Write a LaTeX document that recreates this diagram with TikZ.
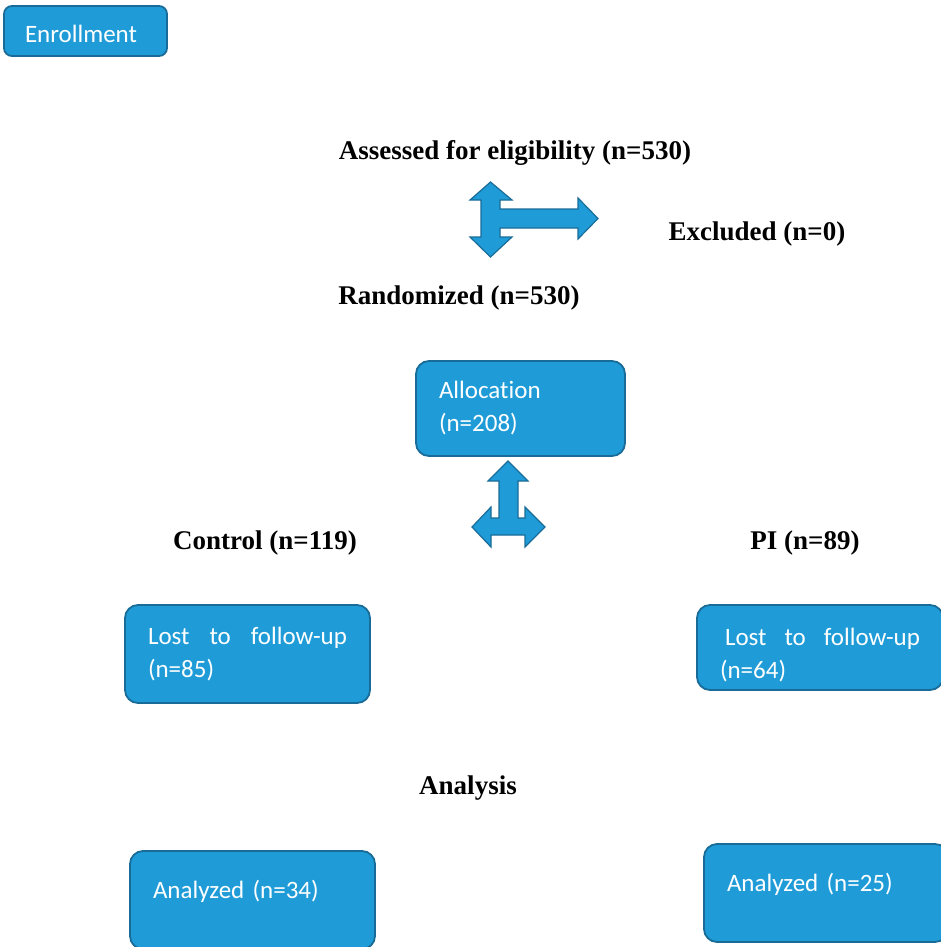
\documentclass[tikz,border=0pt]{standalone}
\usepackage{fontspec}
\setmainfont{Carlito}[Ligatures=NoCommon]
\newfontfamily\headfont{Liberation Serif}
\usepackage{tikz}
\usetikzlibrary{positioning}
\definecolor{boxblue}{HTML}{1F9CD8}
\definecolor{edgeblue}{HTML}{1A6C98}

\begin{document}
\begin{tikzpicture}[
  x=1pt, y=-1pt,
  box/.style={rectangle, draw=edgeblue, fill=boxblue, line width=1.8pt,
              rounded corners=13pt, text=white, inner xsep=23pt, inner ysep=0pt,
              font=\fontsize{25}{33}\selectfont, align=left},
  tag/.style={rectangle, draw=edgeblue, fill=boxblue, line width=1.8pt,
              rounded corners=8pt, text=white, inner xsep=21pt, inner ysep=0pt,
              font=\fontsize{25}{30}\selectfont, align=left},
  head/.style={font=\headfont\bfseries\fontsize{27}{32}\selectfont, inner sep=0pt},
  blockarr/.style={draw=edgeblue, fill=boxblue, line width=1.2pt, line join=miter},
  toptext/.style={text depth=21pt},
]
\useasboundingbox (0,0) rectangle (940,947);

%% ENROLLMENT
\node[tag, text width=121pt, minimum height=50pt, text height=23pt, text depth=0pt]
  (enrol) at (85.5,31) {Enrollment};

%% --- Screening ---
\node[head] (assess) at (515,153) {Assessed for eligibility (n=530)};
\node[head] (excl)   at (757,234) {Excluded (n=0)};
\node[head] (rand)   at (459,298) {Randomized (n=530)};

%% split arrow: up / down / right
\coordinate (sa) at (490.5,218.5);
\draw[blockarr] (sa) ++(0,-36.5) -- ++(21.5,18) -- ++(-12,0) -- ++(0,9) -- ++(78,0)
  -- ++(0,-11) -- ++(20,20.5) -- ++(-20,20.5) -- ++(0,-11) -- ++(-78,0) -- ++(0,9)
  -- ++(12,0) -- ++(-21.5,20) -- ++(-20.5,-20) -- ++(11,0) -- ++(0,-37) -- ++(-11,0) -- cycle;

%% ALLOCATION
\node[box, text width=163pt, minimum height=95pt] (alloc) at (520.5,408.5)
  {Allocation\\(n=208)};

%% split arrow: up / left / right
\coordinate (sb) at (508,527);
\draw[blockarr] (sb) ++(0,-66) -- ++(20,20) -- ++(-10,0) -- ++(0,37) -- ++(7,0)
  -- ++(0,-11) -- ++(20,20) -- ++(-20,20) -- ++(0,-12) -- ++(-34,0) -- ++(0,12)
  -- ++(-19,-20) -- ++(19,-20) -- ++(0,11) -- ++(8,0) -- ++(0,-37) -- ++(-11,0) -- cycle;

%% --- Arms ---
\node[head] (ctrl) at (265,543) {Control (n=119)};
\node[head] (pi)   at (805,543) {PI (n=89)};

\node[box, text width=199pt, minimum height=98pt] (lostc) at (247.5,654)
  {Lost\hfill to\hfill follow-up\\(n=85)};
\node[box, text width=200pt, minimum height=85pt, text height=32pt] (lostp) at (820,647.5)
  {\hspace{5pt}Lost\hfill to\hfill follow-up\\(n=64)};

%% ANALYSIS
\node[head] (anal) at (468,788) {Analysis};

\node[box, toptext, text width=199pt, minimum height=98pt] (anac) at (252.5,900)
  {Analyzed (n=34)};
\node[box, toptext, text width=198pt, minimum height=98pt] (anap) at (826,893)
  {Analyzed (n=25)};

\end{tikzpicture}
\end{document}
